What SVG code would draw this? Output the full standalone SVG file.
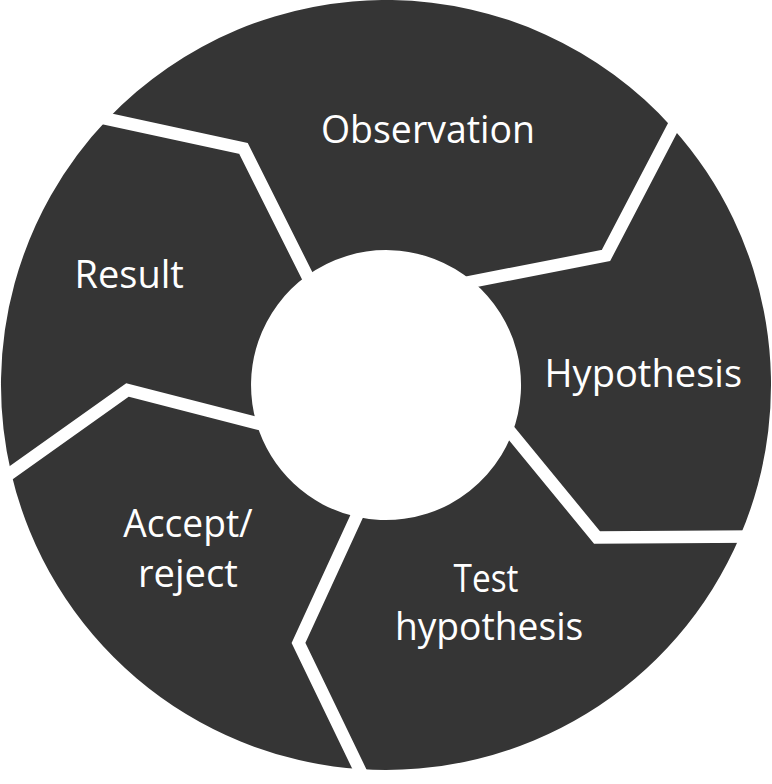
<svg xmlns="http://www.w3.org/2000/svg" width="772" height="784" viewBox="0 0 772 784">
  <style>
    .seg { fill: #353535; }
    .sep { fill: none; stroke: #ffffff; stroke-width: 12.5; stroke-linejoin: miter; stroke-linecap: butt; }
    .lbl { font-family: "Open Sans", "Noto Sans", "Liberation Sans", sans-serif; font-size: 39px; fill: #ffffff; text-anchor: middle; }
  </style>
  <rect x="0" y="0" width="772" height="784" fill="#ffffff"/>
  <g id="node-observation">
    <path class="seg" d="M 107.65,119 A 385 385 0 0 1 672.6,127.9 L 606,255.5 L 472.6,281.4 A 135 135 0 0 0 307.1,275.6 L 243.5,148.5 Z"/>
    <text class="lbl" x="428" y="142.5" textLength="214" lengthAdjust="spacingAndGlyphs">Observation</text>
  </g>
  <g id="node-hypothesis">
    <path class="seg" d="M 672.6,127.9 A 385 385 0 0 1 739.9,536.6 L 597,537.5 L 511.9,433.8 A 135 135 0 0 0 472.6,281.4 L 606,255.5 Z"/>
    <text class="lbl" x="643.3" y="387" textLength="197.5" lengthAdjust="spacingAndGlyphs">Hypothesis</text>
  </g>
  <g id="node-test">
    <path class="seg" d="M 739.9,536.6 A 385 385 0 0 1 359.4,769.1 L 298.5,643 L 356.4,516.8 A 135 135 0 0 0 511.9,433.8 L 597,537.5 Z"/>
    <text class="lbl" x="486" y="591.5" textLength="65" lengthAdjust="spacingAndGlyphs">Test</text>
    <text class="lbl" x="489.1" y="640" textLength="188.4" lengthAdjust="spacingAndGlyphs">hypothesis</text>
  </g>
  <g id="node-accept">
    <path class="seg" d="M 359.4,769.1 A 385 385 0 0 1 11.1,472.7 L 127.5,390 L 256.5,423.1 A 135 135 0 0 0 356.4,516.8 L 298.5,643 Z"/>
    <text class="lbl" x="188" y="537" textLength="129.5" lengthAdjust="spacingAndGlyphs">Accept/</text>
    <text class="lbl" x="187.9" y="586.5" textLength="100" lengthAdjust="spacingAndGlyphs">reject</text>
  </g>
  <g id="node-result">
    <path class="seg" d="M 11.1,472.7 A 385 385 0 0 1 107.65,119 L 243.5,148.5 L 307.1,275.6 A 135 135 0 0 0 256.5,423.1 L 127.5,390 Z"/>
    <text class="lbl" x="129.2" y="288.3" textLength="109.4" lengthAdjust="spacingAndGlyphs">Result</text>
  </g>
  <g id="connectors">
    <polyline class="sep" points="93,115.8 243.5,148.5 313.8,289"/>
    <polyline class="sep" points="679.5,114.6 606,255.5 457.9,284.3"/>
    <polyline class="sep" points="755,536.5 597,537.5 502.4,422.2"/>
    <polyline class="sep" points="362.7,503.2 298.5,643 365.9,782.6"/>
    <polyline class="sep" points="-1.1,481.4 127.5,390 271,426.8"/>
  </g>
</svg>
